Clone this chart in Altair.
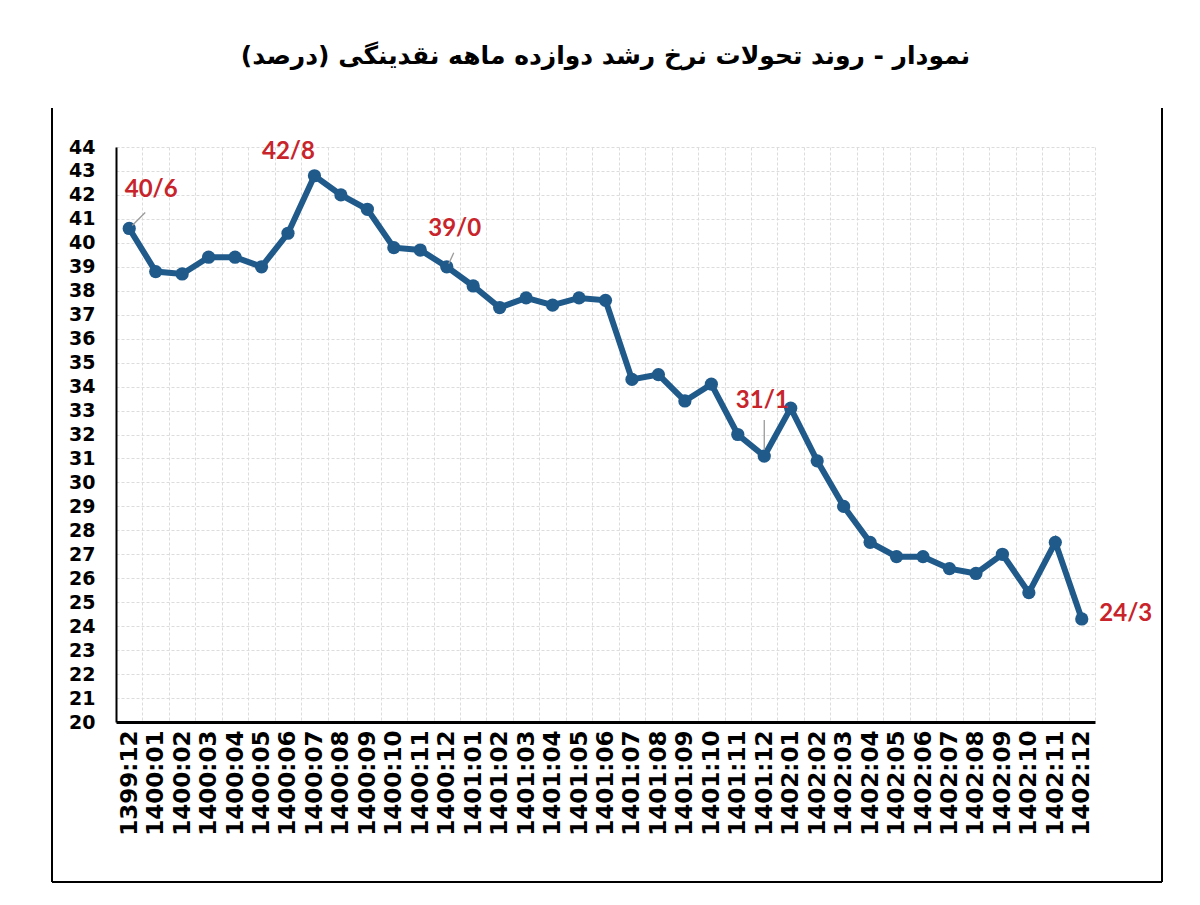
import altair as alt
import pandas as pd

months = ["1399:12",
          "1400:01", "1400:02", "1400:03", "1400:04", "1400:05", "1400:06",
          "1400:07", "1400:08", "1400:09", "1400:10", "1400:11", "1400:12",
          "1401:01", "1401:02", "1401:03", "1401:04", "1401:05", "1401:06",
          "1401:07", "1401:08", "1401:09", "1401:10", "1401:11", "1401:12",
          "1402:01", "1402:02", "1402:03", "1402:04", "1402:05", "1402:06",
          "1402:07", "1402:08", "1402:09", "1402:10", "1402:11", "1402:12"]
values = [40.6,
          38.8, 38.7, 39.4, 39.4, 39.0, 40.4, 42.8, 42.0, 41.4, 39.8, 39.7, 39.0,
          38.2, 37.3, 37.7, 37.4, 37.7, 37.6, 34.3, 34.5, 33.4, 34.1, 32.0, 31.1,
          33.1, 30.9, 29.0, 27.5, 26.9, 26.9, 26.4, 26.2, 27.0, 25.4, 27.5, 24.3]
y_ticks = [20, 21, 22, 23, 24, 25, 26, 27, 28, 29, 30, 31, 32,
           33, 34, 35, 36, 37, 38, 39, 40, 41, 42, 43, 44]
ann_months = ["1399:12", "1400:07", "1400:12", "1401:12", "1402:12"]
ann_texts = ["40/6", "42/8", "39/0", "31/1", "24/3"]

title_text = "نمودار - روند تحولات نرخ رشد دوازده ماهه نقدینگی (درصد)"

df = pd.DataFrame({"month": months, "value": values})
ann = pd.DataFrame({
    "month": ann_months,
    "text": ann_texts,
    "value": [values[months.index(m)] for m in ann_months],
})

W, H = 979, 575
BLUE = "#1f5a8b"
RED = "#c8242b"
GRID = "#dcdcdc"

xenc = alt.X(
    "month:O",
    sort=months,
    bandPosition=0.5,
    scale=alt.Scale(type="band", domain=months, paddingInner=0, paddingOuter=0),
    axis=alt.Axis(
        title=None, labelAngle=-90, labelFont="DejaVu Sans", labelFontWeight="bold",
        labelFontSize=23, labelColor="black", ticks=False, tickBand="extent",
        grid=True, gridColor=GRID, gridDash=[3, 2], gridWidth=1,
        domainColor="black", domainWidth=3, labelPadding=8,
    ),
)
yenc = alt.Y(
    "value:Q",
    scale=alt.Scale(domain=[20, 44], nice=False, zero=False),
    axis=alt.Axis(
        title=None, values=y_ticks, labelFont="DejaVu Sans", labelFontWeight="bold",
        labelFontSize=19, labelColor="black", ticks=False,
        grid=True, gridColor=GRID, gridDash=[3, 2], gridWidth=1,
        domainColor="black", domainWidth=2, labelPadding=21,
    ),
)

line = alt.Chart(df).mark_line(color=BLUE, strokeWidth=6).encode(x=xenc, y=yenc)
pts = alt.Chart(df).mark_circle(color=BLUE, size=175, opacity=1).encode(x=xenc, y=yenc)

# label offsets (dx, dy) and leader offsets per annotation
label_off = {"1399:12": (22, -38), "1400:07": (-26, -24), "1400:12": (8, -38),
             "1401:12": (-2, -55), "1402:12": (44, -5)}
leader_off = {"1399:12": (3, -3, 16, -16), "1400:12": (2, -3, 7, -14),
              "1401:12": (0, -6, 0, -36)}

layers = [line, pts]
for m in ann_months:
    dx, dy = label_off[m]
    layers.append(
        alt.Chart(ann).transform_filter(alt.datum.month == m)
        .mark_text(font="Lato", fontWeight="bold", fontSize=24, color=RED, dx=dx, dy=dy)
        .encode(x=xenc, y=yenc, text="text:N")
    )
for m, (x1, y1, x2, y2) in leader_off.items():
    layers.append(
        alt.Chart(ann).transform_filter(alt.datum.month == m)
        .mark_rule(color="#9a9a9a", strokeWidth=1.3, xOffset=x1, yOffset=y1,
                   x2Offset=x2, y2Offset=y2)
        .encode(x=xenc, y=yenc, x2="month:O", y2="value:Q")
    )

dummy = pd.DataFrame({"a": [0]})
frame_l = alt.Chart(dummy).mark_rule(color="black", strokeWidth=2).encode(
    x=alt.value(-64), y=alt.value(-39), y2=alt.value(735))
frame_r = alt.Chart(dummy).mark_rule(color="black", strokeWidth=2).encode(
    x=alt.value(1046), y=alt.value(-39), y2=alt.value(735))
frame_b = alt.Chart(dummy).mark_rule(color="black", strokeWidth=2).encode(
    x=alt.value(-64), x2=alt.value(1046), y=alt.value(735))
layers += [frame_l, frame_r, frame_b]

chart = alt.layer(*layers).properties(
    width=W, height=H,
    autosize=alt.AutoSizeParams(type="none"),
    padding={"left": 108, "top": 139, "right": 97, "bottom": 180},
    title=alt.TitleParams(
        title_text, font="DejaVu Sans", fontSize=25, fontWeight="bold",
        color="black", anchor="middle", frame="group", offset=38,
    ),
    background="white",
).configure_view(stroke=None)

chart.save("out.html", embed_options={"renderer": "svg", "actions": False})
